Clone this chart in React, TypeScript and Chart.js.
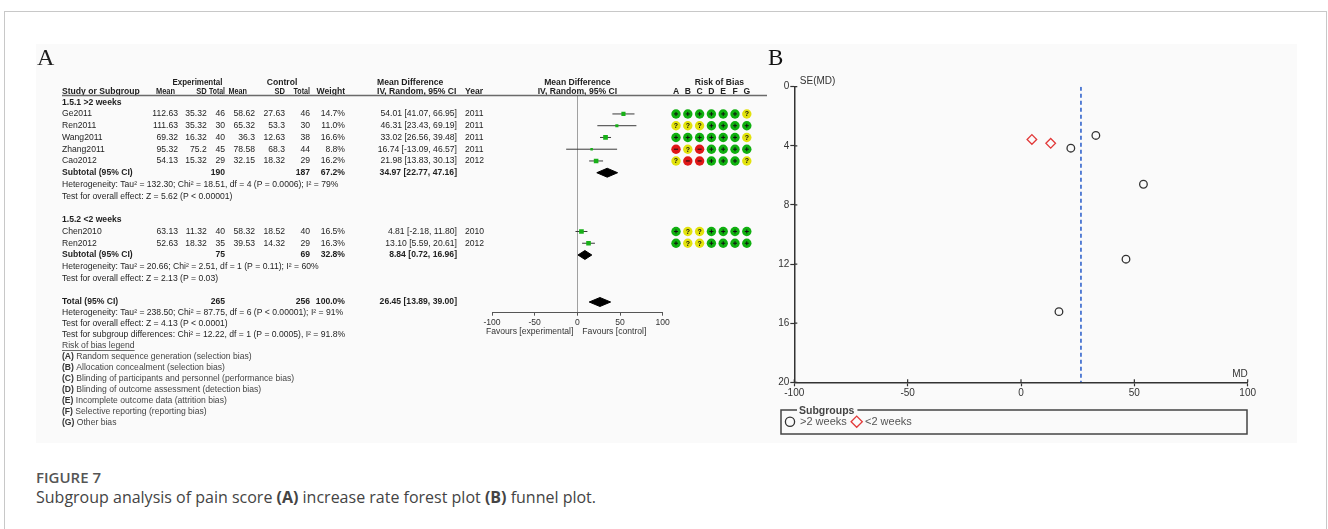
import React, { useEffect, useRef } from "react";
import { Chart, registerables } from "chart.js";

Chart.register(...registerables);

// ---------------- data ----------------
const studyNames = ["Ge2011", "Ren2011", "Wang2011", "Zhang2011", "Cao2012", "Chen2010", "Ren2012"];
const studyRows = [1, 2, 3, 4, 5, 11, 12];
const expMean = ["112.63", "111.63", "69.32", "95.32", "54.13", "63.13", "52.63"];
const expSD = ["35.32", "35.32", "16.32", "75.2", "15.32", "11.32", "18.32"];
const expTotal = [46, 30, 40, 45, 29, 40, 35];
const ctlMean = ["58.62", "65.32", "36.3", "78.58", "32.15", "58.32", "39.53"];
const ctlSD = ["27.63", "53.3", "12.63", "68.3", "18.32", "18.52", "14.32"];
const ctlTotal = [46, 30, 38, 44, 29, 40, 29];
const weights = [14.7, 11.0, 16.6, 8.8, 16.2, 16.5, 16.3];
const mdValues = [54.01, 46.31, 33.02, 16.74, 21.98, 4.81, 13.1];
const ciLower = [41.07, 23.43, 26.56, -13.09, 13.83, -2.18, 5.59];
const ciUpper = [66.95, 69.19, 39.48, 46.57, 30.13, 11.8, 20.61];
const years = [2011, 2011, 2011, 2011, 2012, 2010, 2012];

const pooledRows = [6, 13, 17];
const pooledLabels = ["Subtotal (95% CI)", "Subtotal (95% CI)", "Total (95% CI)"];
const pooledExpTotal = [190, 75, 265];
const pooledCtlTotal = [187, 69, 256];
const pooledWeight = [67.2, 32.8, 100.0];
const pooledMd = [34.97, 8.84, 26.45];
const pooledLower = [22.77, 0.72, 13.89];
const pooledUpper = [47.16, 16.96, 39.0];

const subgroupHeadings = ["1.5.1 >2 weeks", "1.5.2 <2 weeks"];
const subgroupRows = [0, 10];
const statRows = [7, 8, 14, 15];
const statLines = [
  "Heterogeneity: Tau² = 132.30; Chi² = 18.51, df = 4 (P = 0.0006); I² = 79%",
  "Test for overall effect: Z = 5.62 (P < 0.00001)",
  "Heterogeneity: Tau² = 20.66; Chi² = 2.51, df = 1 (P = 0.11); I² = 60%",
  "Test for overall effect: Z = 2.13 (P = 0.03)",
];
const footLines = [
  "Heterogeneity: Tau² = 238.50; Chi² = 87.75, df = 6 (P < 0.00001); I² = 91%",
  "Test for overall effect: Z = 4.13 (P < 0.0001)",
  "Test for subgroup differences: Chi² = 12.22, df = 1 (P = 0.0005), I² = 91.8%",
];
const robLegendTitle = "Risk of bias legend";
const robLegendKeys = ["(A)", "(B)", "(C)", "(D)", "(E)", "(F)", "(G)"];
const robLegendTexts = [
  "Random sequence generation (selection bias)",
  "Allocation concealment (selection bias)",
  "Blinding of participants and personnel (performance bias)",
  "Blinding of outcome assessment (detection bias)",
  "Incomplete outcome data (attrition bias)",
  "Selective reporting (reporting bias)",
  "Other bias",
];

const robDomains = ["A", "B", "C", "D", "E", "F", "G"];
const robJudgements = ["++++++?", "???++++", "++++++?", "-?-++++", "?--+++?", "+??++++", "+??++++"];

const funnelLongMd = [54.01, 46.31, 33.02, 16.74, 21.98];
const funnelLongSe = [6.6, 11.67, 3.3, 15.22, 4.16];
const funnelShortMd = [4.81, 13.1];
const funnelShortSe = [3.57, 3.83];
const funnelLabels = [">2 weeks", "<2 weeks"];
const overallMd = 26.45;

// ---------------- layout ----------------
const PX = 36; // figure panel origin on the page
const PY = 44;
const FONT = '"Liberation Sans", Arial, Helvetica, sans-serif';
const FS = 8.6;
const ROW_Y_MIN = -0.57;
const ROW_Y_MAX = 17.91;

const fmt2 = (v: number) => v.toFixed(2);
const ciText = (m: number, l: number, u: number) => `${fmt2(m)} [${fmt2(l)}, ${fmt2(u)}]`;

const forestTextPlugin = {
  id: "forestText",
  afterDraw(chart: any) {
    const ctx = chart.ctx as CanvasRenderingContext2D;
    const ys = chart.scales.y;
    const xs = chart.scales.x;
    const X = (px: number) => px - PX;
    const Y = (py: number) => py - PY;
    const rowY = (r: number) => ys.getPixelForValue(r);
    ctx.save();
    ctx.fillStyle = "#1e1e1e";
    const txt = (
      s: string,
      px: number,
      yy: number,
      align: CanvasTextAlign = "left",
      bold = false,
      cx = false,
      maxW?: number
    ) => {
      ctx.font = `${bold ? "bold " : ""}${FS}px ${FONT}`;
      ctx.textAlign = align;
      ctx.textBaseline = "middle";
      if (maxW) ctx.fillText(s, cx ? px : X(px), yy, maxW);
      else ctx.fillText(s, cx ? px : X(px), yy);
    };
    // panel letter
    ctx.font = `24px "Liberation Serif", "Times New Roman", serif`;
    ctx.textAlign = "left";
    ctx.textBaseline = "alphabetic";
    ctx.fillText("A", X(37), Y(65));

    // headers
    const h1 = Y(82.7);
    const h2 = Y(91.7);
    const x0 = xs.getPixelForValue(0);
    txt("Experimental", 197.5, h1, "center", true, false, 50);
    txt("Control", 282, h1, "center", true, false, 38);
    txt("Mean Difference", 377, h1, "left", true, false, 69);
    txt("Mean Difference", x0, h1, "center", true, true, 69);
    txt("Study or Subgroup", 62, h2, "left", true);
    txt("Mean", 175, h2, "right", true, false, 19);
    txt("SD", 206.7, h2, "right", true, false, 10.5);
    txt("Total", 225, h2, "right", true, false, 16);
    txt("Mean", 247, h2, "right", true, false, 18.5);
    txt("SD", 285, h2, "right", true, false, 10.5);
    txt("Total", 310, h2, "right", true, false, 16.5);
    txt("Weight", 345, h2, "right", true, false, 30);
    txt("IV, Random, 95% CI", 377, h2, "left", true, false, 80);
    txt("Year", 465, h2, "left", true, false, 19);
    txt("IV, Random, 95% CI", x0, h2, "center", true, true, 80);

    // header rule
    ctx.strokeStyle = "#6a6a6a";
    ctx.lineWidth = 1.4;
    ctx.beginPath();
    ctx.moveTo(X(62), chart.chartArea.top);
    ctx.lineTo(X(767), chart.chartArea.top);
    ctx.stroke();

    // subgroup headings
    subgroupHeadings.forEach((s, i) => txt(s, 62, rowY(subgroupRows[i]), "left", true));
    // studies
    studyNames.forEach((name, i) => {
      const yy = rowY(studyRows[i]);
      txt(name, 62, yy);
      txt(expMean[i], 178, yy, "right");
      txt(expSD[i], 206.7, yy, "right");
      txt(String(expTotal[i]), 225, yy, "right");
      txt(ctlMean[i], 255, yy, "right");
      txt(ctlSD[i], 285, yy, "right");
      txt(String(ctlTotal[i]), 310, yy, "right");
      txt(`${weights[i].toFixed(1)}%`, 345, yy, "right");
      txt(ciText(mdValues[i], ciLower[i], ciUpper[i]), 457, yy, "right");
      txt(String(years[i]), 465, yy, "left");
    });
    // pooled
    pooledLabels.forEach((s, i) => {
      const yy = rowY(pooledRows[i]);
      txt(s, 62, yy, "left", true);
      txt(String(pooledExpTotal[i]), 225, yy, "right", true);
      txt(String(pooledCtlTotal[i]), 310, yy, "right", true);
      txt(`${pooledWeight[i].toFixed(1)}%`, 345, yy, "right", true);
      txt(ciText(pooledMd[i], pooledLower[i], pooledUpper[i]), 457, yy, "right", true);
    });
    // stats
    statLines.forEach((s, i) => txt(s, 62, rowY(statRows[i])));
    const yTotal = rowY(17);
    const pitch = 11;
    footLines.forEach((s, i) => txt(s, 62, yTotal + pitch * (i + 1)));
    // risk of bias legend
    const yLeg = yTotal + pitch * 4;
    ctx.fillStyle = "#444";
    txt(robLegendTitle, 62, yLeg);
    ctx.font = `${FS}px ${FONT}`;
    const w = ctx.measureText(robLegendTitle).width;
    ctx.strokeStyle = "#444";
    ctx.lineWidth = 0.8;
    ctx.beginPath();
    ctx.moveTo(X(62), yLeg + 4.5);
    ctx.lineTo(X(62) + w, yLeg + 4.5);
    ctx.stroke();
    robLegendKeys.forEach((k, i) => {
      const yy = yLeg + pitch * (i + 1);
      ctx.fillStyle = "#333";
      txt(k, 62, yy, "left", true);
      ctx.font = `bold ${FS}px ${FONT}`;
      const kw = ctx.measureText(k).width;
      ctx.fillStyle = "#444";
      txt(" " + robLegendTexts[i], 62 + kw, yy, "left");
    });

    // favours labels
    ctx.fillStyle = "#333";
    const yFav = Y(332);
    txt("Favours [experimental]", x0 - 4, yFav, "right", false, true);
    txt("Favours [control]", x0 + 5, yFav, "left", false, true);
    ctx.restore();
  },
};

function makeForestConfig(): any {
  const ciSets = studyNames.map((_, i) => ({
    type: "line",
    showLine: true,
    data: [
      { x: ciLower[i], y: studyRows[i] },
      { x: ciUpper[i], y: studyRows[i] },
    ],
    borderColor: "#3a3a3a",
    borderWidth: 1,
    pointRadius: 0,
    order: 2,
  }));
  const diamondSets = pooledMd.map((m, i) => ({
    type: "line",
    showLine: true,
    data: [
      { x: pooledLower[i], y: pooledRows[i] },
      { x: m, y: pooledRows[i] - 0.38 },
      { x: pooledUpper[i], y: pooledRows[i] },
      { x: m, y: pooledRows[i] + 0.38 },
      { x: pooledLower[i], y: pooledRows[i] },
    ],
    borderColor: "#000",
    backgroundColor: "#000",
    borderWidth: 1,
    fill: "shape",
    pointRadius: 0,
    tension: 0,
    order: 1,
  }));
  const squares = {
    type: "scatter",
    data: studyNames.map((_, i) => ({ x: mdValues[i], y: studyRows[i] })),
    pointStyle: "rect",
    pointRadius: weights.map((w) => w * 0.2),
    backgroundColor: "#18b018",
    borderWidth: 0,
    order: 0,
  };
  return {
    type: "scatter",
    data: { datasets: [squares, ...ciSets, ...diamondSets] },
    options: {
      responsive: false,
      animation: false,
      devicePixelRatio: 1,
      events: [],
      layout: { padding: { left: 456, right: 113.3, top: 51.5, bottom: 106.3 } },
      plugins: { legend: { display: false }, tooltip: { enabled: false } },
      scales: {
        x: {
          type: "linear",
          min: -100,
          max: 100,
          ticks: { stepSize: 50, color: "#333", font: { family: FONT, size: FS }, padding: 2 },
          grid: {
            color: (c: any) => (c.tick && c.tick.value === 0 ? "#a0a0a0" : "rgba(0,0,0,0)"),
            tickColor: "#555",
            tickLength: 3,
            lineWidth: 1,
          },
          border: { display: true, color: "#555", width: 1 },
          afterFit: (s: any) => {
            s.height = 24;
          },
        },
        y: { type: "linear", reverse: true, min: ROW_Y_MIN, max: ROW_Y_MAX, display: false },
      },
    },
    plugins: [forestTextPlugin],
  };
}

const robColor: Record<string, string> = { "+": "#10b010", "?": "#e2e20c", "-": "#e01818" };

const robPlugin = {
  id: "robSymbols",
  afterDatasetsDraw(chart: any) {
    const ctx = chart.ctx as CanvasRenderingContext2D;
    const meta = chart.getDatasetMeta(0);
    const raw = chart.data.datasets[0].data;
    ctx.save();
    ctx.strokeStyle = "#111";
    ctx.fillStyle = "#111";
    ctx.lineWidth = 1;
    meta.data.forEach((el: any, idx: number) => {
      const j = raw[idx].j;
      const { x, y } = el;
      if (j === "+") {
        ctx.beginPath();
        ctx.moveTo(x - 2, y);
        ctx.lineTo(x + 2, y);
        ctx.moveTo(x, y - 2);
        ctx.lineTo(x, y + 2);
        ctx.stroke();
      } else if (j === "-") {
        ctx.beginPath();
        ctx.moveTo(x - 2, y);
        ctx.lineTo(x + 2, y);
        ctx.stroke();
      } else {
        ctx.font = `bold 7px ${FONT}`;
        ctx.textAlign = "center";
        ctx.textBaseline = "middle";
        ctx.fillText("?", x, y + 0.5);
      }
    });
    // headers
    const xs = chart.scales.x;
    ctx.fillStyle = "#222";
    ctx.font = `bold ${FS}px ${FONT}`;
    ctx.textAlign = "center";
    ctx.textBaseline = "middle";
    robDomains.forEach((d, k) => ctx.fillText(d, xs.getPixelForValue(k), 91.7 - PY));
    ctx.fillText("Risk of Bias", (xs.left + xs.right) / 2 + 8, 82.7 - PY);
    ctx.restore();
  },
};

function makeRobConfig(): any {
  const pts: any[] = [];
  robJudgements.forEach((row, i) => {
    row.split("").forEach((j, k) => pts.push({ x: robDomains[k], y: studyRows[i], j }));
  });
  return {
    type: "scatter",
    data: {
      datasets: [
        {
          data: pts,
          backgroundColor: pts.map((p) => robColor[p.j]),
          pointRadius: 4.7,
          borderWidth: 0,
          clip: false,
        },
      ],
    },
    options: {
      responsive: false,
      animation: false,
      devicePixelRatio: 1,
      events: [],
      layout: { padding: { left: 10.1, right: 7.3, top: 51.5, bottom: 130.3 } },
      plugins: { legend: { display: false }, tooltip: { enabled: false } },
      scales: {
        x: { type: "category", labels: robDomains, offset: true, display: false },
        y: { type: "linear", reverse: true, min: ROW_Y_MIN, max: ROW_Y_MAX, display: false },
      },
    },
    plugins: [robPlugin],
  };
}

const FX = 760; // funnel canvas page origin x
const funnelPlugin = {
  id: "funnelDecor",
  afterDraw(chart: any) {
    const ctx = chart.ctx as CanvasRenderingContext2D;
    const xs = chart.scales.x;
    const ys = chart.scales.y;
    const X = (px: number) => px - FX;
    const Y = (py: number) => py - PY;
    ctx.save();
    // inward tick stubs
    ctx.strokeStyle = "#333";
    ctx.lineWidth = 1.2;
    ctx.beginPath();
    xs.ticks.forEach((t: any) => {
      const p = xs.getPixelForValue(t.value);
      ctx.moveTo(p, ys.bottom);
      ctx.lineTo(p, ys.bottom - 3);
    });
    ys.ticks.forEach((t: any) => {
      const p = ys.getPixelForValue(t.value);
      ctx.moveTo(xs.left, p);
      ctx.lineTo(xs.left + 3, p);
    });
    ctx.stroke();
    // panel letter
    ctx.fillStyle = "#111";
    ctx.font = `23px "Liberation Serif", "Times New Roman", serif`;
    ctx.textAlign = "left";
    ctx.textBaseline = "alphabetic";
    ctx.fillText("B", X(768), Y(65));
    // axis labels
    ctx.fillStyle = "#333";
    ctx.font = `10px ${FONT}`;
    ctx.textBaseline = "middle";
    ctx.fillText("SE(MD)", xs.left + 5.5, Y(81));
    ctx.textAlign = "right";
    ctx.fillText("MD", xs.right, Y(374));
    // legend box
    const bx = X(781), by = Y(410), bw = 466, bh = 24;
    ctx.strokeStyle = "#444";
    ctx.lineWidth = 1.5;
    ctx.strokeRect(bx, by, bw, bh);
    ctx.font = `bold 10.5px ${FONT}`;
    ctx.textAlign = "left";
    const title = "Subgroups";
    const tw = ctx.measureText(title).width;
    ctx.fillStyle = "#fafafa";
    ctx.fillRect(X(797), by - 2, tw + 5, 4);
    ctx.fillStyle = "#444";
    ctx.fillText(title, X(799), by + 1);
    const iy = Y(421.7);
    const ds = chart.data.datasets;
    // item 1: circle
    ctx.lineWidth = 1.3;
    ctx.strokeStyle = ds[0].borderColor;
    ctx.beginPath();
    ctx.arc(X(790), iy, 4.6, 0, Math.PI * 2);
    ctx.stroke();
    ctx.font = `11px ${FONT}`;
    ctx.fillStyle = "#555";
    ctx.fillText(ds[0].label, X(800), iy + 0.5);
    // item 2: diamond
    const dx = X(856.7), r = 5.6;
    ctx.strokeStyle = ds[1].borderColor;
    ctx.beginPath();
    ctx.moveTo(dx - r, iy);
    ctx.lineTo(dx, iy - r);
    ctx.lineTo(dx + r, iy);
    ctx.lineTo(dx, iy + r);
    ctx.closePath();
    ctx.stroke();
    ctx.fillStyle = "#555";
    ctx.fillText(ds[1].label, X(865), iy + 0.5);
    ctx.restore();
  },
};

function makeFunnelConfig(): any {
  return {
    type: "scatter",
    data: {
      datasets: [
        {
          label: funnelLabels[0],
          data: funnelLongMd.map((m, i) => ({ x: m, y: funnelLongSe[i] })),
          pointStyle: "circle",
          pointRadius: 3.8,
          borderColor: "#333",
          backgroundColor: "rgba(0,0,0,0)",
          borderWidth: 1.3,
        },
        {
          label: funnelLabels[1],
          data: funnelShortMd.map((m, i) => ({ x: m, y: funnelShortSe[i] })),
          pointStyle: "rectRot",
          pointRadius: 4.8,
          borderColor: "#e23a3a",
          backgroundColor: "rgba(0,0,0,0)",
          borderWidth: 1.3,
        },
        {
          label: "overall",
          type: "line",
          showLine: true,
          data: [
            { x: overallMd, y: 0 },
            { x: overallMd, y: 20 },
          ],
          borderColor: "#2358c8",
          borderWidth: 1.5,
          borderDash: [4, 3],
          pointRadius: 0,
        },
      ],
    },
    options: {
      responsive: false,
      animation: false,
      devicePixelRatio: 1,
      events: [],
      layout: { padding: { left: 0, right: 49.3, top: 42.7, bottom: 40.7 } },
      plugins: { legend: { display: false }, tooltip: { enabled: false } },
      scales: {
        x: {
          type: "linear",
          min: -100,
          max: 100,
          ticks: { stepSize: 50, color: "#333", font: { family: FONT, size: 10 }, padding: 1 },
          grid: { drawOnChartArea: false, tickLength: 4, tickColor: "#333", tickWidth: 1.2 },
          border: { display: true, color: "#333", width: 1.5 },
          afterFit: (s: any) => {
            s.height = 20;
          },
        },
        y: {
          type: "linear",
          reverse: true,
          min: 0,
          max: 20,
          ticks: { stepSize: 4, color: "#333", font: { family: FONT, size: 10 }, padding: 1 },
          grid: { drawOnChartArea: false, tickLength: 4, tickColor: "#333", tickWidth: 1.2 },
          border: { display: true, color: "#333", width: 1.5 },
          afterFit: (s: any) => {
            s.width = 34.3;
          },
        },
      },
    },
    plugins: [funnelPlugin],
  };
}

function ChartCanvas({ left, width, height, make }: { left: number; width: number; height: number; make: () => any }) {
  const ref = useRef<HTMLCanvasElement>(null);
  useEffect(() => {
    const chart = new Chart(ref.current as HTMLCanvasElement, make());
    return () => chart.destroy();
  }, []);
  return (
    <canvas
      ref={ref}
      width={width}
      height={height}
      style={{ position: "absolute", left, top: 0, width, height, display: "block" }}
    />
  );
}

export default function App() {
  return (
    <div
      style={{
        position: "absolute",
        left: 0,
        top: 0,
        width: 1328,
        height: 529,
        overflow: "hidden",
        background: "#fff",
      }}
    >
      <div
        style={{
          position: "absolute",
          left: 4,
          top: 11,
          width: 1321,
          height: 560,
          border: "1px solid #c8c8c8",
        }}
      />
      <div
        style={{
          position: "absolute",
          left: PX,
          top: PY,
          width: 1261,
          height: 399,
          background: "#fafafa",
        }}
      >
        <ChartCanvas left={0} width={740} height={399} make={makeForestConfig} />
        <ChartCanvas left={624} width={100} height={399} make={makeRobConfig} />
        <ChartCanvas left={724} width={537} height={399} make={makeFunnelConfig} />
      </div>
      <div
        style={{
          position: "absolute",
          left: 36,
          top: 467,
          font: '600 15px "Open Sans", sans-serif',
          lineHeight: "20px",
          color: "#555",
          whiteSpace: "nowrap",
        }}
      >
        FIGURE 7
      </div>
      <div
        style={{
          position: "absolute",
          left: 36,
          top: 486,
          font: '16px "Open Sans", sans-serif',
          lineHeight: "22px",
          color: "#444",
          whiteSpace: "nowrap",
        }}
      >
        Subgroup analysis of pain score <b>(A)</b> increase rate forest plot <b>(B)</b> funnel plot.
      </div>
    </div>
  );
}
